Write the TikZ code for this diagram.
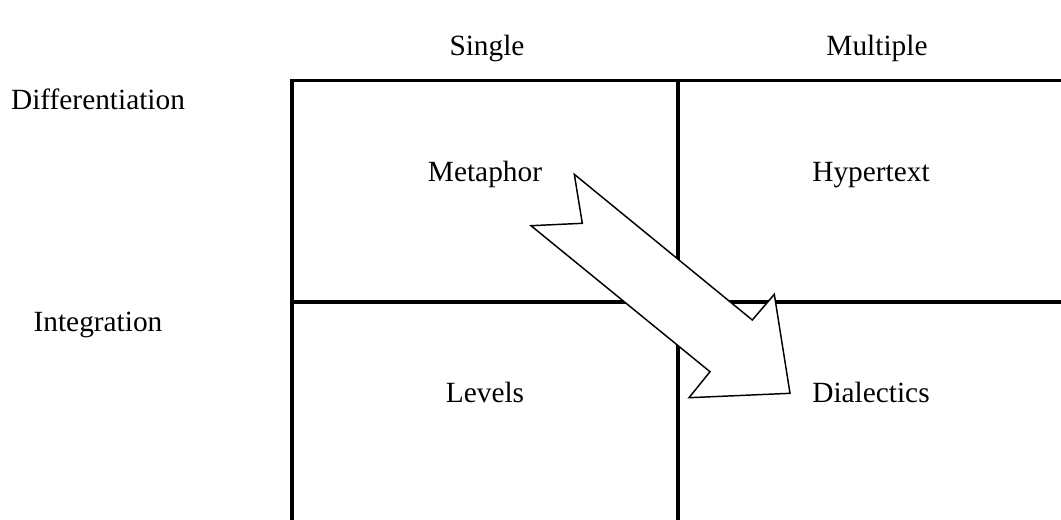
\documentclass[tikz,border=0pt]{standalone}
\usepackage{fontspec}
\setmainfont{Liberation Serif}
\begin{document}
\begin{tikzpicture}[x=0.75pt,y=-0.75pt,
  gridline/.style={line width=2.3pt, line cap=rect},
  lbl/.style={font=\fontsize{22}{25}\selectfont, inner sep=0pt, anchor=base},
  blockarrow/.style={draw=black, fill=white, line width=1.1pt, line join=miter}]
\useasboundingbox (0,0) rectangle (1061,519);
% grid
\coordinate (tl) at (292,80.7);
\coordinate (tr) at (1062,80.7);
\coordinate (ml) at (292,302);
\coordinate (mr) at (1062,302);
\coordinate (tm) at (678,80.7);
\coordinate (bl) at (292,520);
\coordinate (bm) at (678,520);
\draw[gridline] (tl) -- (tr);
\draw[gridline] (ml) -- (mr);
\draw[gridline] (tl) -- (bl);
\draw[gridline] (tm) -- (bm);
% headers
\node[lbl] (single) at (487,55) {Single};
\node[lbl] (multiple) at (877,55) {Multiple};
\node[lbl] (diff) at (98,109) {Differentiation};
\node[lbl] (integ) at (98,331) {Integration};
% cells
\node[lbl] (metaphor) at (485,181) {Metaphor};
\node[lbl] (hypertext) at (871,181) {Hypertext};
\node[lbl] (levels) at (485,402) {Levels};
\node[lbl] (dialectics) at (871,402) {Dialectics};
% block arrow
\coordinate (a1) at (574.3,174.3);
\coordinate (a2) at (582.3,223.3);
\coordinate (a3) at (531,225.7);
\coordinate (a4) at (710,371.7);
\coordinate (a5) at (689,397.7);
\coordinate (a6) at (790,393.3);
\coordinate (a7) at (774.3,294.3);
\coordinate (a8) at (752.3,320);
\draw[blockarrow] (a1) -- (a2) -- (a3) -- (a4) -- (a5) -- (a6) -- (a7) -- (a8) -- cycle;
\end{tikzpicture}
\end{document}
